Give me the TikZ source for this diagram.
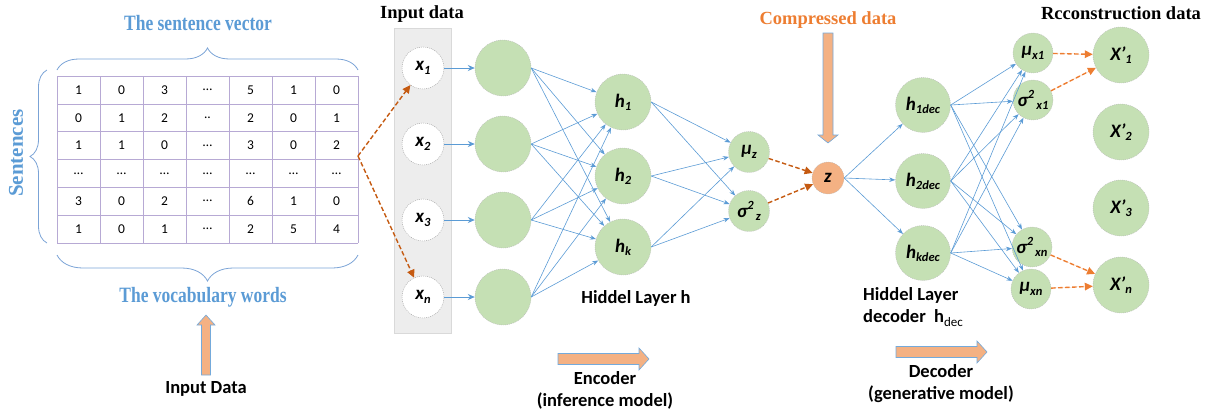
\documentclass[tikz,border=0pt]{standalone}
\usepackage{fontspec}
\setmainfont{Liberation Serif}
\newfontfamily\calibri{Carlito}
\usetikzlibrary{arrows.meta,decorations.pathreplacing}

\definecolor{titleblue}{HTML}{5B9BD5}
\definecolor{braceblue}{HTML}{7BA3D6}
\definecolor{gridpurple}{HTML}{B7A9D4}
\definecolor{nodegreen}{HTML}{C5E0B4}
\definecolor{linkblue}{HTML}{5B9BD5}
\definecolor{rust}{HTML}{C55A11}
\definecolor{flame}{HTML}{ED7D31}
\definecolor{peach}{HTML}{F4B183}
\definecolor{panelgray}{HTML}{EDEDED}

% small raised / lowered indices for the node labels
\newcommand\subtx[1]{\raisebox{-0.17em}{\fontsize{12.5}{12.5}\selectfont #1}}
\newcommand\suptx[1]{\raisebox{0.45em}{\fontsize{12.5}{12.5}\selectfont #1}}

\begin{document}
\begin{tikzpicture}[x=1pt,y=-1pt,
  every node/.style={inner sep=0pt},
  neuron/.style={circle, fill=nodegreen, draw=gray!55, dash pattern=on 1pt off 1pt,
    line width=0.4pt, minimum size=56pt,
    font=\calibri\bfseries\itshape\fontsize{19}{19}\selectfont},
  inputunit/.style={neuron, fill=white, draw=gray!75, minimum size=42pt},
  gauss/.style={neuron, minimum size=41pt},
  latent/.style={neuron, fill=peach, minimum size=32pt},
  link/.style={draw=linkblue, line width=0.6pt, -{Stealth[length=6pt,width=4.5pt]}},
  feed/.style={link, line width=1pt, -{Stealth[length=7pt,width=6pt]}},
  sample/.style={draw=rust, line width=1.4pt, dash pattern=on 4.5pt off 2.5pt,
    -{Triangle[length=8pt,width=7.5pt]}},
  recon/.style={sample, draw=flame, fill=flame},
  headline/.style={font=\bfseries\fontsize{18.5}{18.5}\selectfont},
  bluehead/.style={text=titleblue, font=\bfseries\fontsize{17.5}{17.5}\selectfont},
  caption/.style={font=\calibri\bfseries\fontsize{18.5}{22}\selectfont, align=center},
  cell/.style={font=\calibri\fontsize{13.5}{13.5}\selectfont},
  bracket/.style={draw=braceblue, line width=0.8pt, decorate},
  blockarrow/.style={fill=peach, draw=linkblue!85, line width=0.6pt, line join=miter}
]
\useasboundingbox (0,0) rectangle (1217,415);

% ---------- sentence / word matrix ----------
\foreach \r in {0,...,6}
  \draw[gridpurple, line width=0.6pt] (57,{76+27.8*\r}) -- (358,{76+27.8*\r});
\foreach \c in {0,...,7}
  \draw[gridpurple, line width=0.6pt] ({57+43*\c},76) -- ({57+43*\c},242.8);

\foreach \row [count=\r] in {
    {1,0,3,…,5,1,0},
    {0,1,2,..,2,0,1},
    {1,1,0,…,3,0,2},
    {…,…,…,…,…,…,…},
    {3,0,2,…,6,1,0},
    {1,0,1,…,2,5,4}}
  \foreach \v [count=\c] in \row
    \node[cell] (cell-\r-\c) at ({57+43*(\c-0.5)},{76+27.8*(\r-0.5)}) {\v};

\draw[bracket, decoration={brace, amplitude=22pt}] (57,70) -- (358,70);
\draw[bracket, decoration={brace, amplitude=26pt, mirror}] (57,255) -- (358,255);
\draw[bracket, decoration={brace, amplitude=17pt, mirror}] (47,70) -- (47,243);

\node[bluehead] (sentvec) at (198,23) {\scalebox{1}[1.25]{The sentence vector}};
\node[bluehead] (vocab) at (203,297) {\scalebox{1}[1.25]{The vocabulary words}};
\node[bluehead, font=\bfseries\fontsize{21}{21}\selectfont, rotate=90] (sent) at (16,153) {Sentences};

% input arrow and caption
\draw[blockarrow] (201.5,375) -- (201.5,325) -- (197,325) -- (206,315) -- (215,325)
  -- (210.5,325) -- (210.5,375) -- cycle;
\node[caption] (inlabel) at (206,389) {Input Data};

% ---------- input panel ----------
\fill[panelgray] (394,28) rectangle (451,333);
\draw[gray!30, line width=0.6pt] (394,28) rectangle (451,333);
\node[headline] (indata) at (422,14) {Input data};

\node[inputunit] (x1) at (423,68)  {x\subtx{1}};
\node[inputunit] (x2) at (423,144) {x\subtx{2}};
\node[inputunit] (x3) at (423,220) {x\subtx{3}};
\node[inputunit] (xn) at (423,297) {x\subtx{n}};

\coordinate (tabout) at (358,156);
\draw[sample] (tabout) -- (x1);
\draw[sample] (tabout) -- (xn);

% ---------- encoder ----------
\node[neuron] (a1) at (503,68)  {};
\node[neuron] (a2) at (503,144) {};
\node[neuron] (a3) at (503,220) {};
\node[neuron] (a4) at (503,297) {};

\node[neuron] (h1) at (623,102) {h\subtx{1}};
\node[neuron] (h2) at (623,176) {h\subtx{2}};
\node[neuron] (hk) at (623,247) {h\subtx{k}};

\node[gauss] (muz) at (749,152) {μ\subtx{z}};
\node[gauss] (sgz) at (749,211) {σ\suptx{2}\subtx{\,z}};

\node[latent] (z) at (828,178) {z};

\foreach \i/\j in {x1/a1, x2/a2, x3/a3, xn/a4}
  \draw[feed] (\i.east) -- (\j.west);
\foreach \i in {a1,a2,a3,a4}
  \foreach \j in {h1,h2,hk}
    \draw[link] (\i.east) -- (\j);
\foreach \i in {h1,h2,hk}
  \foreach \j in {muz,sgz}
    \draw[link] (\i.east) -- (\j);
\draw[sample] (muz) -- (z);
\draw[sample] (sgz) -- (z);

\node[caption] (hlabel) at (636,298) {Hiddel Layer h};

% compressed data marker
\node[headline, text=flame] (compressed) at (828,20) {Compressed data};
\draw[blockarrow] (823,33) -- (833,33) -- (833,135) -- (838,135) -- (828,143)
  -- (818,135) -- (823,135) -- cycle;

% ---------- decoder ----------
\node[neuron, minimum size=55pt] (d1) at (923,105) {h\subtx{1dec}};
\node[neuron, minimum size=55pt] (d2) at (923,181) {h\subtx{2dec}};
\node[neuron, minimum size=55pt] (dk) at (923,253) {h\subtx{kdec}};

\node[gauss, minimum size=40pt] (mux1) at (1033,53)  {μ\subtx{x1}};
\node[gauss, minimum size=40pt] (sgx1) at (1033,100) {σ\suptx{2}\subtx{\,x1}};
\node[gauss, minimum size=40pt] (sgxn) at (1032,247) {σ\suptx{2}\subtx{\,xn}};
\node[gauss, minimum size=40pt] (muxn) at (1031,289) {μ\subtx{xn}};

\node[neuron] (r1) at (1121,55)  {X’\subtx{1}};
\node[neuron] (r2) at (1121,132) {X’\subtx{2}};
\node[neuron] (r3) at (1121,208) {X’\subtx{3}};
\node[neuron] (rn) at (1121,285) {X’\subtx{n}};

\foreach \j in {d1,d2,dk}
  \draw[link] (z.east) -- (\j);
\foreach \i in {d1,d2,dk}
  \foreach \j in {mux1,sgx1,sgxn,muxn}
    \draw[link] (\i.east) -- (\j);
\draw[recon] (mux1) -- (r1);
\draw[recon] (sgx1) -- (r1);
\draw[recon] (sgxn) -- (rn);
\draw[recon] (muxn) -- (rn);

\node[headline] (recdata) at (1121,13) {Rcconstruction data};
\node[caption, anchor=west, align=left] (dlabel) at (863,307)
  {Hiddel Layer\\decoder\ \ h\subtx{\mdseries\fontsize{13}{13}\selectfont dec}};

% ---------- direction arrows ----------
\draw[blockarrow] (558,353.5) -- (639,353.5) -- (639,348) -- (649,359) -- (639,370)
  -- (639,364.5) -- (558,364.5) -- cycle;
\node[caption] (enc) at (605,390) {Encoder\\(inference model)};

\draw[blockarrow] (896,346.5) -- (977,346.5) -- (977,341) -- (987,352) -- (977,363)
  -- (977,357.5) -- (896,357.5) -- cycle;
\node[caption] (dec) at (941,384) {Decoder\\(generative model)};

\end{tikzpicture}
\end{document}
